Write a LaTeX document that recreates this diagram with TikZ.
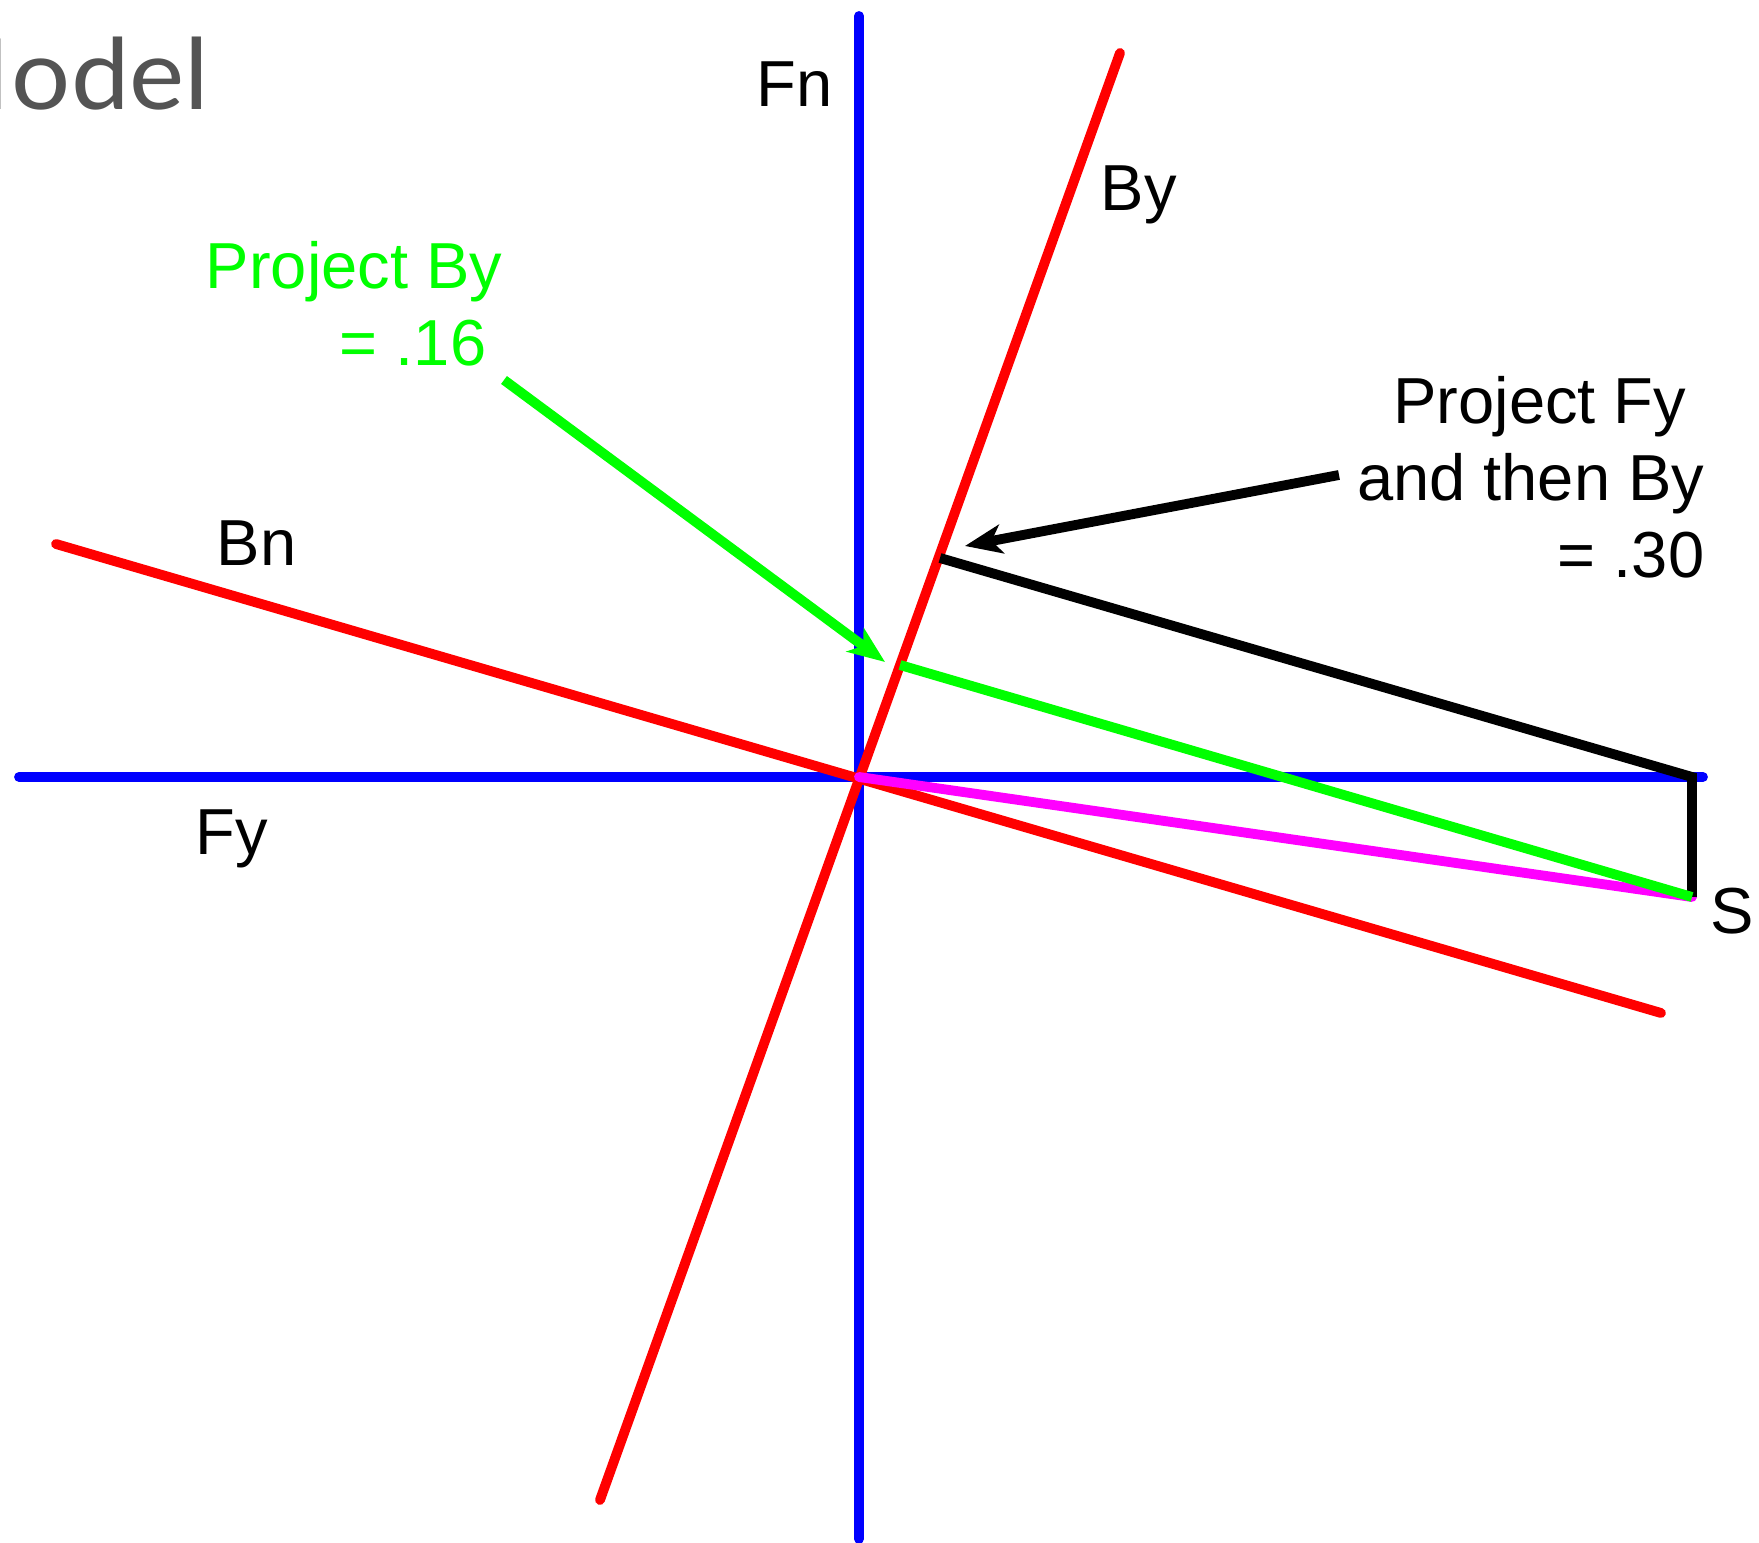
\documentclass[tikz,border=0pt]{standalone}
\usepackage{fontspec}
\setmainfont{Liberation Sans}
\newfontfamily\titlefont[FakeStretch=1.06]{Lato}
\usepackage{tikz}
\usetikzlibrary{positioning, calc, arrows.meta}

\definecolor{projmag}{RGB}{255,0,255}
\definecolor{projgreen}{RGB}{0,255,0}

\tikzset{
  axis/.style={blue, line width=2.8pt, line cap=round},
  basis/.style={red, line width=2.8pt, line cap=round},
  proj/.style={line width=2.8pt, line cap=round},
  lbl/.style={font=\fontsize{18.5}{21.8}\selectfont, inner sep=0pt}
}

\begin{document}
\begin{tikzpicture}[x=0.01cm, y=-0.01cm, >={Stealth[length=0.37cm, width=0.29cm, inset=0.1cm]}]
    \useasboundingbox (0,0) rectangle (1759,1543);

    % Title (cut off at the left edge)
    \node[font=\titlefont\fontsize{28}{30}\selectfont, text=black!67, anchor=base east, inner sep=0pt] (title) at (210,110) {M\kern0.02em odel};

    % Axes
    \coordinate (O) at (859,777);
    \coordinate (fnTop) at (859,16);
    \coordinate (fnBot) at (859,1539);
    \coordinate (fyLeft) at (19,777);
    \coordinate (fyRight) at (1703,777);
    \draw[axis] (fnBot) -- (fnTop);
    \draw[axis] (fyLeft) -- (fyRight);

    % Rotated basis
    \coordinate (byTop) at (1120,53);
    \coordinate (byBot) at (600,1500);
    \coordinate (bnLeft) at (56,544);
    \coordinate (bnRight) at (1661,1013);
    \draw[basis] (byBot) -- (byTop);
    \draw[basis] (bnLeft) -- (bnRight);

    % Point S and its projections
    \coordinate (S) at (1692,897);
    \coordinate (Sx) at (1692,777);
    \coordinate (pFy) at (940,558);
    \coordinate (pBy) at (900,665);
    \draw[proj, projmag] (O) -- (S);
    \draw[proj, black, line cap=butt] (pFy) -- (Sx) -- (S);
    \draw[proj, projgreen, line cap=butt] (pBy) -- (S);

    % Axis labels
    \node[lbl, anchor=base west] (fnLabel) at (756,107) {Fn};
    \node[lbl, anchor=base west] (byLabel) at (1100,211) {By};
    \node[lbl, anchor=base west] (bnLabel) at (216,566) {Bn};
    \node[lbl, anchor=base west] (fyLabel) at (195,855) {Fy};
    \node[lbl, anchor=base west] (sLabel) at (1710,934) {S};

    % Callouts
    \node[lbl, projgreen, align=right, anchor=north east] (projBy) at (503,241) {Project By\\= .16\hspace*{0.16cm}};
    \node[lbl, align=right, anchor=north east] (projFy) at (1705,376) {Project Fy\hspace*{0.18cm}\\and then By\\= .30};
    \coordinate (gTail) at (504,380);
    \coordinate (gTip) at (885,662);
    \coordinate (kTail) at (1339,475);
    \coordinate (kTip) at (965,546);
    \draw[->, projgreen, line width=2.8pt] (gTail) -- (gTip);
    \draw[->, black, line width=2.8pt] (kTail) -- (kTip);
\end{tikzpicture}
\end{document}
